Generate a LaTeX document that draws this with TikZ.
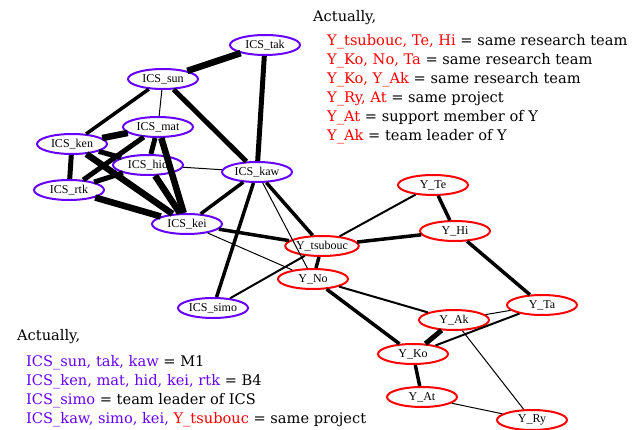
\documentclass[tikz,border=0pt]{standalone}
\usepackage{fontspec}
\setmainfont{Liberation Serif}
\newfontfamily\notefont{DejaVu Serif}
\usetikzlibrary{shapes.geometric}
\definecolor{icsblue}{RGB}{102,0,255}

\begin{document}
\begin{tikzpicture}[x=1pt, y=-1pt,
                member/.style={ellipse, line width=2pt, inner sep=0pt,
                        minimum width=70pt, minimum height=20pt,
                        font=\fontsize{12}{12}\selectfont},
                ics/.style={member, draw=icsblue},
                yy/.style={member, draw=red},
                tie1/.style={line width=1pt},
                tie2/.style={line width=2pt},
                tie3/.style={line width=3.5pt},
                tie4/.style={line width=5pt},
                tie5/.style={line width=6.5pt},
                note/.style={anchor=base west, inner sep=0pt,
                        font=\notefont\fontsize{14.6}{19}\selectfont}]

                \useasboundingbox (0,0) rectangle (637,430);

                % ICS members
                \draw(265,45) node[ics] (tak) {ICS\_tak};
                \draw(163,79) node[ics] (sun) {ICS\_sun};
                \draw(158,127) node[ics] (mat) {ICS\_mat};
                \draw(72,144) node[ics] (ken) {ICS\_ken};
                \draw(148,165) node[ics] (hid) {ICS\_hid};
                \draw(69,190) node[ics] (rtk) {ICS\_rtk};
                \draw(257,172) node[ics] (kaw) {ICS\_kaw};
                \draw(187,224) node[ics] (kei) {ICS\_kei};
                \draw(213,308) node[ics] (simo) {ICS\_simo};

                % Y members
                \draw(433,185) node[yy] (Te) {Y\_Te};
                \draw(455,231) node[yy] (Hi) {Y\_Hi};
                \draw(322,246) node[yy] (tsubouc) {Y\_tsubouc};
                \draw(313,279) node[yy] (No) {Y\_No};
                \draw(542,305) node[yy] (Ta) {Y\_Ta};
                \draw(454,320) node[yy] (Ak) {Y\_Ak};
                \draw(413,354) node[yy] (Ko) {Y\_Ko};
                \draw(422,397) node[yy] (At) {Y\_At};
                \draw(532,420) node[yy] (Ry) {Y\_Ry};

                % links
                \draw[tie5] (tak) -- (sun);
                \draw[tie4] (tak) -- (kaw);
                \draw[tie3] (sun) -- (ken);
                \draw[tie1] (sun) -- (mat);
                \draw[tie4] (sun) -- (kaw);
                \draw[tie5] (mat) -- (ken);
                \draw[tie4] (mat) -- (rtk);
                \draw[tie4] (mat) -- (hid);
                \draw[tie5] (mat) -- (kei);
                \draw[tie4] (ken) -- (hid);
                \draw[tie5] (ken) -- (kei);
                \draw[tie4] (ken) -- (rtk);
                \draw[tie4] (hid) -- (rtk);
                \draw[tie5] (hid) -- (kei);
                \draw[tie1] (hid) -- (kaw);
                \draw[tie5] (rtk) -- (kei);
                \draw[tie3] (kei) -- (kaw);
                \draw[tie3] (kei) -- (tsubouc);
                \draw[tie1] (kei) -- (No);
                \draw[tie3] (kaw) -- (simo);
                \draw[tie3] (kaw) -- (tsubouc);
                \draw[tie1] (kaw) -- (No);
                \draw[tie2] (simo) -- (tsubouc);
                \draw[tie3] (tsubouc) -- (No);
                \draw[tie2] (tsubouc) -- (Te);
                \draw[tie3] (tsubouc) -- (Hi);
                \draw[tie3] (Te) -- (Hi);
                \draw[tie3] (Hi) -- (Ta);
                \draw[tie2] (No) -- (Ak);
                \draw[tie3] (No) -- (Ko);
                \draw[tie1] (Ak) -- (Ta);
                \draw[tie2] (Ko) -- (Ta);
                \draw[tie4] (Ak) -- (Ko);
                \draw[tie1] (Ak) -- (Ry);
                \draw[tie3] (Ko) -- (At);
                \draw[tie1] (At) -- (Ry);

                % notes, top right
                \draw(313,22) node[note] (act1) {Actually,};
                \draw(327,46) node[note] (y1) {\color{red}Y\_tsubouc, Te, Hi \color{black}= same research team};
                \draw(327,65) node[note] (y2) {\color{red}Y\_Ko, No, Ta \color{black}= same research team};
                \draw(327,84) node[note] (y3) {\color{red}Y\_Ko, Y\_Ak \color{black}= same research team};
                \draw(327,103) node[note] (y4) {\color{red}Y\_Ry, At \color{black}= same project};
                \draw(327,122) node[note] (y5) {\color{red}Y\_At \color{black}= support member of Y};
                \draw(327,141) node[note] (y6) {\color{red}Y\_Ak \color{black}= team leader of Y};

                % notes, bottom left
                \draw(17,340) node[note] (act2) {Actually,};
                \draw(26,366) node[note] (i1) {\color{icsblue}ICS\_sun, tak, kaw \color{black}= M1};
                \draw(26,385) node[note] (i2) {\color{icsblue}ICS\_ken, mat, hid, kei, rtk \color{black}= B4};
                \draw(26,404) node[note] (i3) {\color{icsblue}ICS\_simo \color{black}= team leader of ICS};
                \draw(26,423) node[note] (i4) {\color{icsblue}ICS\_kaw, simo, kei, \color{red}Y\_tsubouc \color{black}= same project};

            \end{tikzpicture}
\end{document}
